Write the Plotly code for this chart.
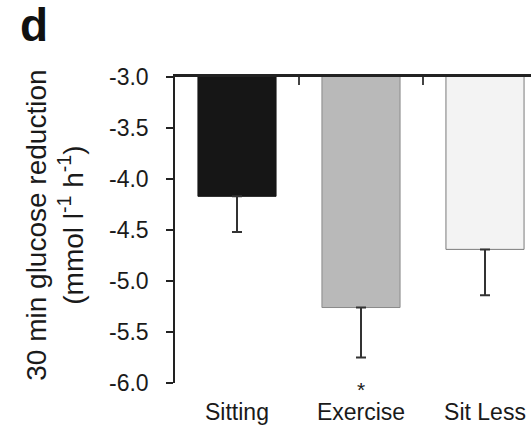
import plotly.graph_objects as go

# Conditions and 30-min glucose change (mean, lower error)
conditions = ["Sitting", "Exercise", "Sit Less"]
glucose_change = [-4.17, -5.26, -4.69]
error_lower = [0.35, 0.49, 0.45]
error_upper = [0, 0, 0]
bar_fill = ["#161616", "#b9b9b9", "#f3f3f3"]
bar_edge = ["#161616", "#8a8a8a", "#7a7a7a"]

y_ticks = [-3.0, -3.5, -4.0, -4.5, -5.0, -5.5, -6.0]
y_tick_text = ["-3.0", "-3.5", "-4.0", "-4.5", "-5.0", "-5.5", "-6.0"]

FONT = "Liberation Sans, Arial, Helvetica, sans-serif"
X_RANGE = [-0.5, 2.371]

fig = go.Figure()

fig.add_trace(go.Bar(
    x=conditions,
    y=glucose_change,
    marker=dict(color=bar_fill, line=dict(color=bar_edge, width=1)),
    width=0.63,
    error_y=dict(type="data", symmetric=False, array=error_upper,
                 arrayminus=error_lower, width=5, thickness=2,
                 color="#333333"),
    showlegend=False,
    hoverinfo="x+y",
))

# invisible trace that carries the categories onto the top axis
fig.add_trace(go.Scatter(
    x=conditions, y=glucose_change, xaxis="x2", mode="markers",
    marker=dict(opacity=0), showlegend=False, hoverinfo="skip",
))

fig.update_layout(
    width=531, height=425,
    margin=dict(l=175, r=0, t=77, b=41.5),
    paper_bgcolor="white", plot_bgcolor="white",
    font=dict(family=FONT, color="#1a1a1a"),
    xaxis=dict(
        type="category", categoryorder="array", categoryarray=conditions,
        range=X_RANGE, showline=False, ticks="", showgrid=False,
        zeroline=False, tickfont=dict(size=23, family=FONT, color="#1a1a1a"),
        ticklabelstandoff=13,
    ),
    xaxis2=dict(
        type="category", categoryorder="array", categoryarray=conditions,
        range=X_RANGE, overlaying="x", side="top", anchor="y",
        showline=True, linecolor="#222222", linewidth=2.5,
        ticks="inside", tickson="boundaries", ticklen=8, tickwidth=1.5,
        tickcolor="#444444", showticklabels=False, showgrid=False,
        zeroline=False,
    ),
    yaxis=dict(
        range=[-6.0, -3.0], tickvals=y_ticks, ticktext=y_tick_text,
        showline=True, linecolor="#222222", linewidth=1.5,
        ticks="outside", ticklen=7, tickwidth=1.5, tickcolor="#222222",
        showgrid=False, zeroline=False,
        tickfont=dict(size=23, family=FONT, color="#1a1a1a"),
        ticklabelstandoff=13,
    ),
    bargap=0.37,
)

# rotated two-line y-axis title
fig.add_annotation(
    text="30 min glucose reduction<br>(mmol l<sup>-1</sup> h<sup>-1</sup>)",
    xref="paper", yref="paper", x=-0.337, y=0.514,
    xanchor="center", yanchor="middle", textangle=-90, showarrow=False,
    font=dict(size=28, family=FONT, color="#1a1a1a"),
)

# panel letter
fig.add_annotation(
    text="<b>d</b>", xref="paper", yref="paper", x=-0.44, y=1.17,
    xanchor="left", yanchor="middle", showarrow=False,
    font=dict(size=46, family=FONT, color="#111111"),
)

# significance marker under Exercise
fig.add_annotation(
    text="*", xref="x", yref="paper", x="Exercise", y=-0.02,
    xanchor="center", yanchor="middle", showarrow=False,
    font=dict(size=21, family=FONT, color="#1a1a1a"),
)

fig.write_html("out.html")
